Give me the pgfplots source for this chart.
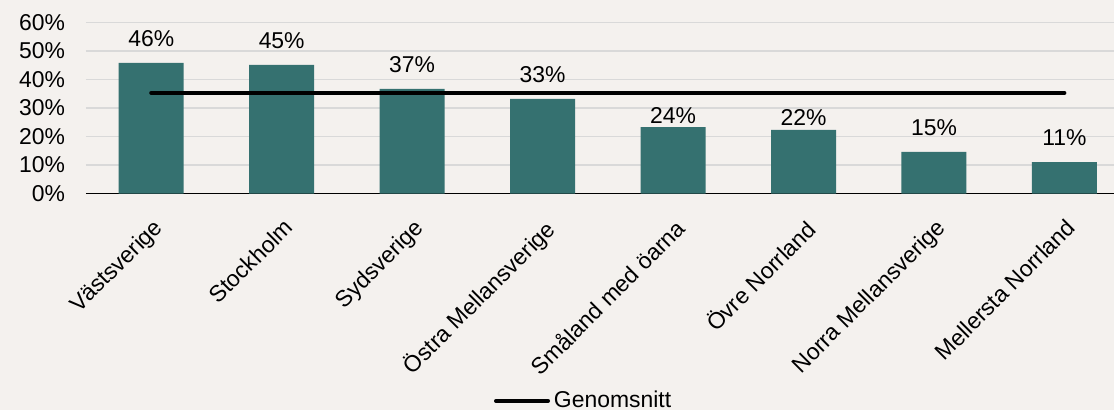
\documentclass[border=0pt]{standalone}
\usepackage{fontspec}
\setmainfont{Liberation Sans}
\usepackage{pgfplots}
\pgfplotsset{compat=1.18}
\definecolor{bg}{HTML}{F4F1EE}
\definecolor{barcol}{HTML}{357170}
\definecolor{gridcol}{HTML}{D9D9D9}

\begin{document}
\begin{tikzpicture}
\fill[bg] (0,0) rectangle (557bp,205bp);
\begin{axis}[
    at={(43bp,108.25bp)}, anchor=south west,
    width=514bp, height=85.5bp, scale only axis,
    xmin=-0.5, xmax=7.38, ymin=0, ymax=60,
    axis line style={draw=none},
    major tick length=0pt,
    ymajorgrids, grid style={gridcol, line width=0.6bp},
    ytick={0,10,...,60},
    yticklabel={\pgfmathprintnumber{\tick}\%},
    yticklabel style={xshift=-7bp},
    extra y ticks={0}, extra y tick labels={},
    extra y tick style={grid style={black, line width=0.7bp}},
    xtick={0,...,7},
    xticklabels={Västsverige, Stockholm, Sydsverige, Östra Mellansverige,
                 Småland med öarna, Övre Norrland, Norra Mellansverige, Mellersta Norrland},
    xticklabel style={rotate=45, anchor=north east, inner sep=1bp, xshift=-7bp, yshift=-7.5bp},
    tick label style={font=\fontsize{11.5}{13}\selectfont},
    /pgf/number format/assume math mode=true,
    legend style={at={(0.485,-1.213)}, anchor=center, draw=none, fill=none,
                  font=\fontsize{11.5}{13}\selectfont, inner sep=0pt},
    legend image code/.code={\draw[#1, line width=2bp, line cap=round] (0bp,0bp) -- (26bp,0bp);},
    clip=false,
]
\addplot[ybar, bar width=32.5bp, bar shift=0pt, fill=barcol, draw=none, forget plot]
  coordinates {(0,45.8) (1,45.1) (2,36.7) (3,33.2) (4,23.3) (5,22.3) (6,14.6) (7,11.0)};
\addplot[draw=none, mark=none, forget plot, point meta=explicit symbolic,
         nodes near coords, nodes near coords align={center},
         every node near coord/.append style={font=\fontsize{11.5}{13}\selectfont, inner sep=0pt}]
  coordinates {(0,54.4)[46\%] (1,53.7)[45\%] (2,45.3)[37\%] (3,41.8)[33\%]
               (4,27.2)[24\%] (5,26.8)[22\%] (6,23.2)[15\%] (7,19.6)[11\%]};
\addplot[black, line width=2bp, line cap=round, mark=none]
  coordinates {(0,35.3) (7,35.3)};
\addlegendentry{Genomsnitt}
\end{axis}
\pgfresetboundingbox
\path[use as bounding box] (0,0) rectangle (557bp,205bp);
\end{tikzpicture}
\end{document}
